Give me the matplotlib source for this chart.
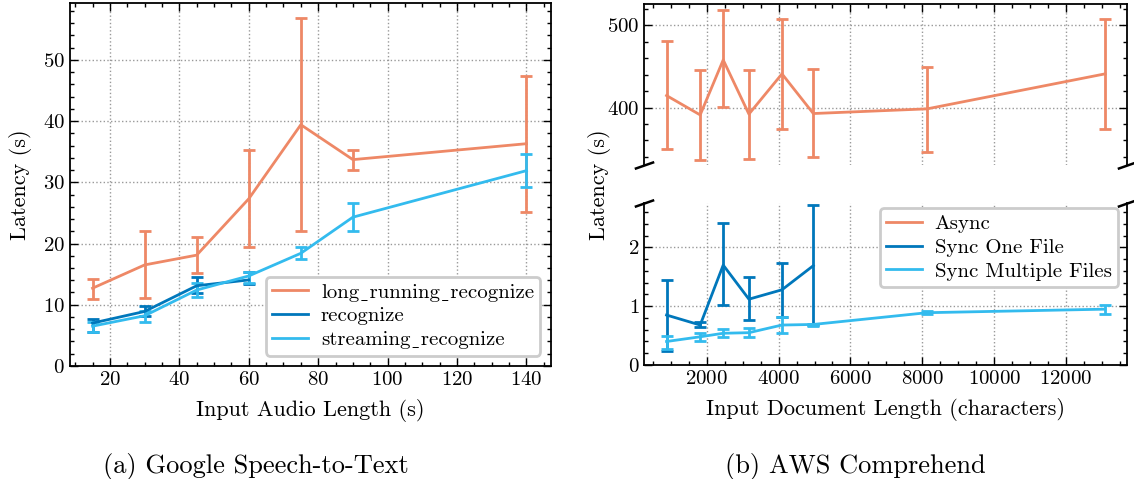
import matplotlib
matplotlib.use("Agg")
import matplotlib.pyplot as plt
from matplotlib.ticker import MultipleLocator

plt.rcParams['font.family'] = ['cmr10', 'DejaVu Serif']
plt.rcParams['mathtext.fontset'] = 'cm'
plt.rcParams['axes.formatter.use_mathtext'] = True
plt.rcParams['font.size'] = 15

ORANGE = '#EE8866'
BLUE = '#0077BB'
CYAN = '#33BBEE'

# (a) Google Speech-to-Text
audio_len = [15, 30, 45, 60, 75, 90, 140]
long_mean = [12.7, 16.5, 18.1, 27.3, 39.4, 33.7, 36.3]
long_hi = [14.2, 22.1, 21.0, 35.2, 56.8, 35.3, 47.4]
long_lo = [10.9, 11.1, 15.2, 19.5, 22.1, 32.0, 25.2]

rec_len = [15, 30, 45, 60]
rec_mean = [7.0, 8.9, 13.1, 14.05]
rec_hi = [7.6, 9.8, 14.5, 15.4]
rec_lo = [5.6, 8.1, 11.9, 13.4]

stream_mean = [6.5, 8.2, 12.4, 14.7, 18.4, 24.3, 31.9]
stream_hi = [7.2, 8.9, 13.5, 15.4, 19.4, 26.6, 34.6]
stream_lo = [5.6, 7.1, 11.2, 13.6, 17.4, 22.1, 29.2]

# (b) AWS Comprehend
doc_len = [883, 1819, 2460, 3175, 4095, 4967, 8134, 13083]
async_mean = [414.6, 391, 458, 392, 441, 392.7, 398.4, 441]
async_hi = [481, 445.6, 519, 445.6, 508, 447, 449, 507.7]
async_lo = [349, 336, 400.5, 337, 373.7, 339.5, 345.6, 374.4]

one_len = [883, 1819, 2460, 3175, 4095, 4967]
one_mean = [0.85, 0.68, 1.70, 1.12, 1.28, 1.69]
one_hi = [1.45, 0.74, 2.41, 1.49, 1.73, 2.73]
one_lo = [0.24, 0.64, 1.02, 0.77, 0.82, 0.68]

multi_mean = [0.40, 0.48, 0.54, 0.55, 0.68, 0.69, 0.89, 0.95]
multi_hi = [0.50, 0.54, 0.61, 0.63, 0.82, 0.70, 0.92, 1.02]
multi_lo = [0.27, 0.41, 0.48, 0.47, 0.55, 0.67, 0.86, 0.87]

# cmr10 puts a dot accent at '_', so use a low line glyph from the fallback font
US = '\u02cd'


def errs(mean, lo, hi):
    return [[m - l for m, l in zip(mean, lo)], [h - m for m, h in zip(mean, hi)]]


def style(ax):
    ax.tick_params(which='both', direction='in', top=True, right=True, width=1.0, labelsize=15)
    ax.tick_params(which='major', length=6)
    ax.tick_params(which='minor', length=3)
    ax.grid(True, which='major', linestyle=':', color='#999999', linewidth=1.0)
    for s in ax.spines.values():
        s.set_linewidth(1.3)


def add_legend(ax, **kw):
    h, l = ax.get_legend_handles_labels()
    h = [x[0] if hasattr(x, 'lines') else x for x in h]
    leg = ax.legend(h, l, fontsize=15, fancybox=True, edgecolor='#cccccc', framealpha=1.0,
                    handlelength=1.75, handletextpad=0.6, labelspacing=0.25,
                    borderpad=0.3, **kw)
    leg.get_frame().set_linewidth(2.0)


ebkw = dict(linewidth=2.0, elinewidth=2.0, capsize=4, capthick=2.0)

fig = plt.figure(figsize=(11.34, 4.79), dpi=100)

ax1 = fig.add_axes([0.0617, 0.236, 0.424, 0.758])
ax1.errorbar(audio_len, long_mean, yerr=errs(long_mean, long_lo, long_hi), color=ORANGE,
             label='long' + US + 'running' + US + 'recognize', **ebkw)
ax1.errorbar(rec_len, rec_mean, yerr=errs(rec_mean, rec_lo, rec_hi), color=BLUE,
             label='recognize', **ebkw)
ax1.errorbar(audio_len, stream_mean, yerr=errs(stream_mean, stream_lo, stream_hi), color=CYAN,
             label='streaming' + US + 'recognize', **ebkw)
ax1.set_xlim(8.5, 147)
ax1.set_ylim(0, 59.3)
ax1.xaxis.set_major_locator(MultipleLocator(20))
ax1.xaxis.set_minor_locator(MultipleLocator(5))
ax1.yaxis.set_major_locator(MultipleLocator(10))
ax1.yaxis.set_minor_locator(MultipleLocator(2))
style(ax1)
ax1.set_xlabel('Input Audio Length (s)', fontsize=16, labelpad=7)
ax1.set_ylabel('Latency (s)', fontsize=16, labelpad=8)
add_legend(ax1, loc='lower right', borderaxespad=0.5)

ax_top = fig.add_axes([0.568, 0.6555, 0.426, 0.336])
ax_bot = fig.add_axes([0.568, 0.238, 0.426, 0.338])
ax_top.errorbar(doc_len, async_mean, yerr=errs(async_mean, async_lo, async_hi), color=ORANGE,
                label='Async', **ebkw)
ax_bot.plot([], [], color=ORANGE, linewidth=2.0, label='Async')
ax_bot.errorbar(one_len, one_mean, yerr=errs(one_mean, one_lo, one_hi), color=BLUE,
                label='Sync One File', **ebkw)
ax_bot.errorbar(doc_len, multi_mean, yerr=errs(multi_mean, multi_lo, multi_hi), color=CYAN,
                label='Sync Multiple Files', **ebkw)
for ax in (ax_top, ax_bot):
    ax.set_xlim(259, 13700)
    ax.xaxis.set_major_locator(MultipleLocator(2000))
    ax.xaxis.set_minor_locator(MultipleLocator(500))
    style(ax)
ax_top.set_ylim(330, 526)
ax_top.yaxis.set_major_locator(MultipleLocator(100))
ax_top.yaxis.set_minor_locator(MultipleLocator(20))
ax_bot.set_ylim(0, 2.755)
ax_bot.yaxis.set_major_locator(MultipleLocator(1))
ax_bot.yaxis.set_minor_locator(MultipleLocator(0.2))

ax_top.spines['bottom'].set_visible(False)
ax_bot.spines['top'].set_visible(False)
ax_top.tick_params(which='both', bottom=False, labelbottom=False)
ax_bot.tick_params(which='both', top=False)

d = dict(marker=[(-1, -0.35), (1, 0.35)], markersize=14, linestyle='none', color='k',
         mec='k', mew=1.8, clip_on=False)
ax_top.plot([0, 1], [0, 0], transform=ax_top.transAxes, **d)
ax_bot.plot([0, 1], [1, 1], transform=ax_bot.transAxes, **d)

ax_bot.set_xlabel('Input Document Length (characters)', fontsize=16, labelpad=7)
fig.text(0.529, 0.615, 'Latency (s)', rotation=90, ha='center', va='center', fontsize=16)
add_legend(ax_bot, loc='upper right', bbox_to_anchor=(1 - 4 / 483, 1.0), borderaxespad=0.25)

fig.text(0.226, 0.013, '(a) Google Speech-to-Text', ha='center', va='baseline', fontsize=19)
fig.text(0.754, 0.013, '(b) AWS Comprehend', ha='center', va='baseline', fontsize=19)

fig.savefig('out.png', dpi=100)
